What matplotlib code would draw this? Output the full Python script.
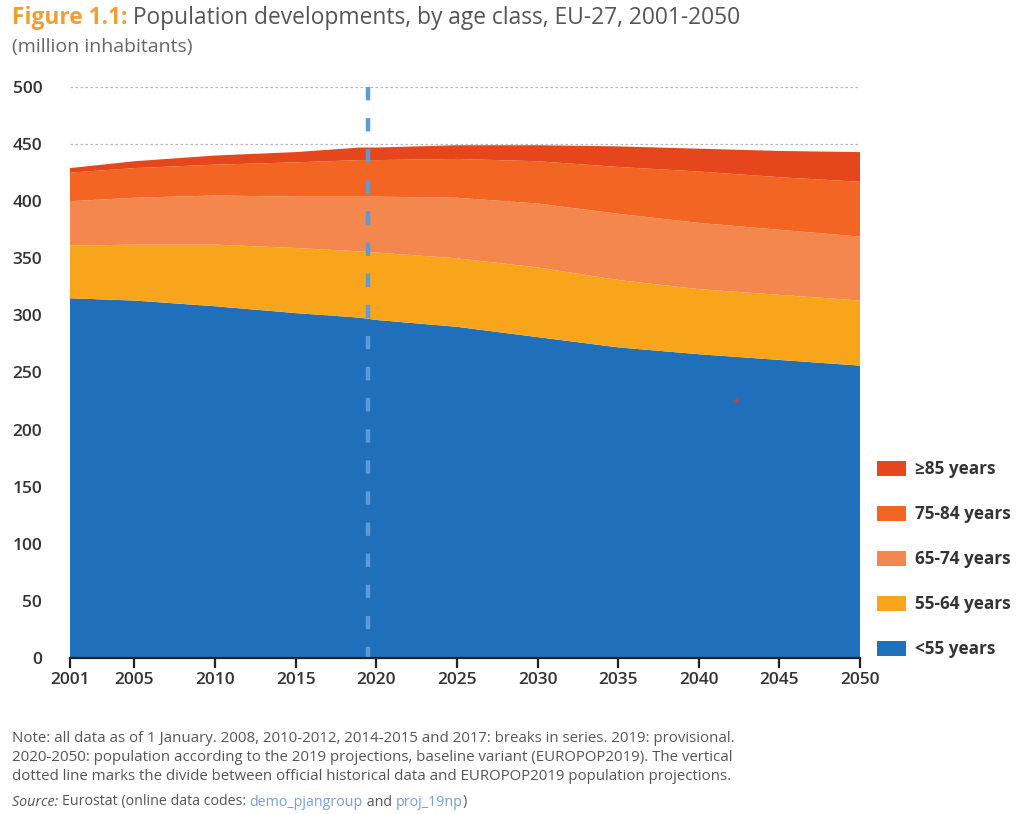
import matplotlib
matplotlib.use("Agg")
import matplotlib.pyplot as plt
from matplotlib.patches import Patch

plt.rcParams['font.family'] = ['Open Sans', 'DejaVu Sans']

years = [2001, 2005, 2010, 2015, 2019, 2020, 2025, 2030, 2035, 2040, 2045, 2050]
under55 = [315, 313, 308, 302, 298, 296, 290, 281, 272, 266, 261, 256]
age55_64 = [46, 49, 54, 57, 58, 59, 60, 61, 59, 57, 57, 57]
age65_74 = [39, 41, 43, 45, 48, 49, 53, 56, 58, 58, 57, 56]
age75_84 = [25, 26, 27, 30, 32, 32, 34, 37, 41, 45, 46, 48]
age85 = [4, 6, 8, 9, 11, 11, 12, 14, 18, 20, 23, 26]

labels = ['<55 years', '55-64 years', '65-74 years', '75-84 years', '\u226585 years']
colors = ['#1f6fba', '#f9a51b', '#f4874d', '#f26522', '#e5461c']
xticks = [2001, 2005, 2010, 2015, 2020, 2025, 2030, 2035, 2040, 2045, 2050]
yticks = [0, 50, 100, 150, 200, 250, 300, 350, 400, 450, 500]
divide_year = 2019.5
stray_dot = (2042.3, 226)

fig = plt.figure(figsize=(10.27, 8.14), dpi=100)
ax = fig.add_axes([70/1027, 1-658/814, 790/1027, 571/814])

ax.stackplot(years, under55, age55_64, age65_74, age75_84, age85,
             colors=colors, zorder=2, linewidth=0)
ax.plot([divide_year, divide_year], [500, 0], color='#5b9bd8', lw=3.2,
        dashes=(3.0, 4.0), zorder=3, solid_capstyle='butt', dash_capstyle='butt')
ax.plot([stray_dot[0]], [stray_dot[1]], 'o', color='#e03030', ms=3, mew=0, zorder=4)

ax.set_xlim(2001, 2050)
ax.set_ylim(0, 500)
ax.set_xticks(xticks)
ax.set_yticks(yticks)
ax.yaxis.grid(True, color='#b8b8b8', linestyle=(0, (2, 2)), lw=0.9, zorder=0)
ax.set_axisbelow(True)
for s in ['top', 'right', 'left']:
    ax.spines[s].set_visible(False)
ax.spines['bottom'].set_color('#222222')
ax.spines['bottom'].set_linewidth(1.6)
ax.spines['bottom'].set_zorder(5)
ax.tick_params(axis='y', length=0, pad=20, labelsize=12.5, labelcolor='#333333')
ax.tick_params(axis='x', length=7, width=1.6, color='#222222', pad=3,
               labelsize=12.5, labelcolor='#333333')
for t in ax.get_xticklabels() + ax.get_yticklabels():
    t.set_fontweight('semibold')

handles = [Patch(facecolor=c, label=l) for c, l in zip(colors, labels)]
leg = fig.legend(handles=handles[::-1], loc='upper left',
                 bbox_to_anchor=(862/1027, 1-445/814), frameon=False,
                 handlelength=1.65, handleheight=1.0, labelspacing=1.58,
                 handletextpad=0.55, prop={'size': 12.3, 'weight': 'bold'})
for t in leg.get_texts():
    t.set_color('#333333')

fig.canvas.draw()
r = fig.canvas.get_renderer()


def run_text(x0, y, parts, size):
    x = x0
    for txt, col, sty, wt in parts:
        t = fig.text(x, y, txt, color=col, fontsize=size, fontstyle=sty,
                     fontweight=wt, va='center')
        bb = t.get_window_extent(renderer=r)
        x += bb.width / fig.bbox.width


run_text(12/1027, 1-18/814,
         [('Figure 1.1:', '#f0a030', 'normal', 'bold'),
          (' Population developments, by age class, EU-27, 2001-2050', '#555555', 'normal', 'normal')],
         16.4)
fig.text(12/1027, 1-47/814, '(million inhabitants)', color='#666666', fontsize=14,
         va='center')

notes = ['Note: all data as of 1 January. 2008, 2010-2012, 2014-2015 and 2017: breaks in series. 2019: provisional.',
         '2020-2050: population according to the 2019 projections, baseline variant (EUROPOP2019). The vertical',
         'dotted line marks the divide between official historical data and EUROPOP2019 population projections.']
for i, n in enumerate(notes):
    fig.text(12/1027, 1-(738+19.5*i)/814, n, color='#555555', fontsize=10.8,
             va='center')

run_text(12/1027, 1-802/814,
         [('Source: ', '#555555', 'italic', 'normal'),
          ('Eurostat (online data codes: ', '#555555', 'normal', 'normal'),
          ('demo_pjangroup', '#7a9fd4', 'normal', 'normal'),
          (' and ', '#555555', 'normal', 'normal'),
          ('proj_19np', '#7a9fd4', 'normal', 'normal'),
          (')', '#555555', 'normal', 'normal')], 10.3)

fig.savefig('out.png', dpi=100)
